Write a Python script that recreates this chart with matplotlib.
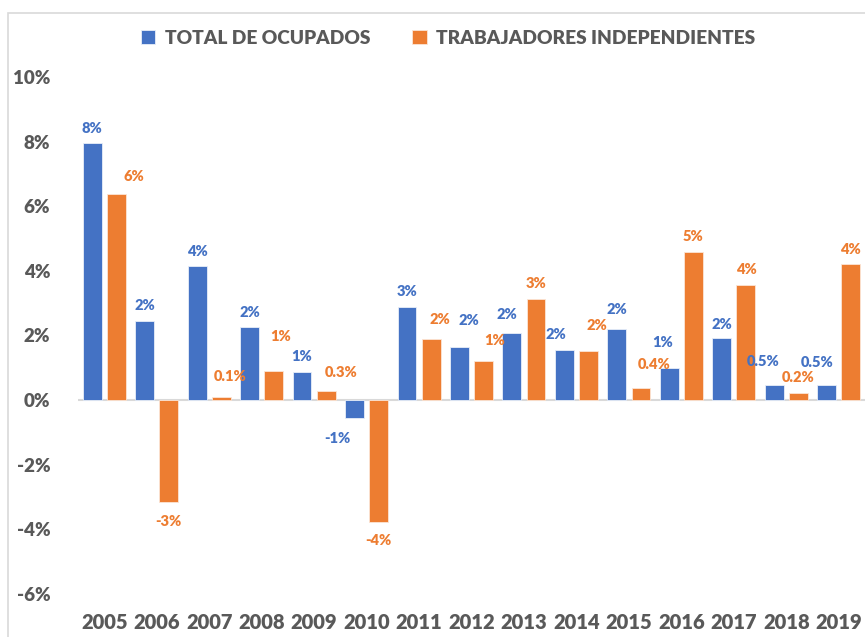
import matplotlib.pyplot as plt
import numpy as np
from matplotlib.patches import Rectangle

plt.rcParams['font.family'] = ['Lato', 'DejaVu Sans']
plt.rcParams['font.weight'] = 'heavy'

# growth rates (%) per year
years = ['2005', '2006', '2007', '2008', '2009', '2010', '2011', '2012',
         '2013', '2014', '2015', '2016', '2017', '2018', '2019']
ocupados = [7.95, 2.45, 4.15, 2.25, 0.87, -0.55, 2.88, 1.64,
            2.07, 1.55, 2.20, 0.99, 1.92, 0.46, 0.46]
independientes = [6.38, -3.16, 0.10, 0.90, 0.28, -3.78, 1.89, 1.21,
                  3.13, 1.52, 0.36, 4.58, 3.56, 0.22, 4.21]
ocupados_lbl = ['8%', '2%', '4%', '2%', '1%', '-1%', '3%', '2%',
                '2%', '2%', '2%', '1%', '2%', '0.5%', '0.5%']
independientes_lbl = ['6%', '-3%', '0.1%', '1%', '0.3%', '-4%', '2%', '1%',
                      '3%', '2%', '0.4%', '5%', '4%', '0.2%', '4%']
yticks = [-6, -4, -2, 0, 2, 4, 6, 8, 10]

# label nudges in pixels (dx, dy) from the bar end
ocu_off = [(0, 15), (0, 15), (0, 15), (0, 15), (0, 16), (-17, -21), (0, 16), (9, 27),
           (-5, 19), (-8, 16), (0, 20), (-7, 26), (0, 14), (-11, 24), (-10, 23)]
ind_off = [(18, 17), (0, -19), (9, 20), (7, 35), (15, 19), (0, -18), (9, 20), (11, 21),
           (0, 15), (8, 26), (13, 24), (0, 16), (0, 16), (0, 16), (0, 15)]

BLUE = '#4472C4'
ORANGE = '#ED7D31'
GREY = '#595959'

fig = plt.figure(figsize=(8.65, 6.37), dpi=100)
ax = fig.add_axes([78/865, 1 - 594/637, 1 - 78/865, (594 - 77)/637])

# chart frame
fig.patches.append(Rectangle((8/865, -0.1), 1.2, 1 - 13/637 + 0.1, transform=fig.transFigure,
                             fill=False, edgecolor='#D9D9D9', linewidth=1.2))

x = np.arange(len(years))
w = 0.36
b1 = ax.bar(x - 0.23, ocupados, w, color=BLUE, edgecolor='#E8EEF8', linewidth=0.6,
            label='TOTAL DE OCUPADOS', zorder=2)
b2 = ax.bar(x + 0.23, independientes, w, color=ORANGE, edgecolor='#FBE5D6', linewidth=0.6,
            label='TRABAJADORES INDEPENDIENTES', zorder=2)

for bars, vals, lbls, offs, col in [(b1, ocupados, ocupados_lbl, ocu_off, BLUE),
                                    (b2, independientes, independientes_lbl, ind_off, ORANGE)]:
    for bar, v, t, (dx, dy) in zip(bars, vals, lbls, offs):
        ax.annotate(t, (bar.get_x() + bar.get_width() / 2, v), xytext=(dx, dy),
                    textcoords='offset pixels', ha='center', va='center',
                    color=col, fontsize=10.5)

ax.axhline(0, color='#D9D9D9', linewidth=1.5, zorder=1)
ax.set_xlim(-0.5, len(years) - 0.5)
ax.set_ylim(-6, 10)
ax.set_yticks(yticks)
ax.set_yticklabels([f'{v}%' for v in yticks])
ax.set_xticks(x)
ax.set_xticklabels(years)
ax.tick_params(axis='y', length=0, pad=20, labelsize=13.5, labelcolor=GREY)
ax.tick_params(axis='x', length=0, pad=14, labelsize=14.5, labelcolor=GREY)
for s in ax.spines.values():
    s.set_visible(False)

fig.legend(loc='center', bbox_to_anchor=(448/865, 1 - 38/637), ncol=2, frameon=False,
           fontsize=13.8, labelcolor=GREY, handlelength=0.75, handleheight=0.75,
           handletextpad=0.5, columnspacing=2.2)

plt.savefig('out.png', dpi=100)
